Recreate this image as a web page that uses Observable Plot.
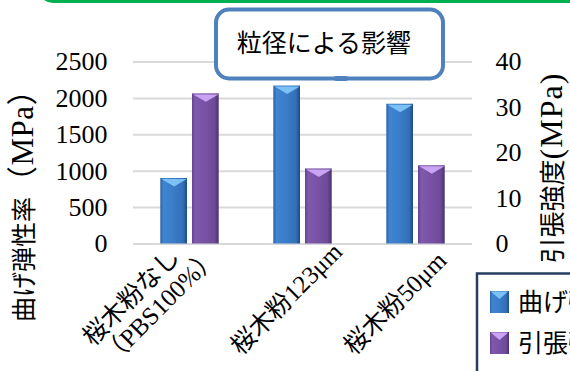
<!DOCTYPE html>
<html><head><meta charset="utf-8">
<script src="https://cdn.jsdelivr.net/npm/d3@7"></script>
<script src="https://cdn.jsdelivr.net/npm/@observablehq/plot@0.6"></script>
<style>
html,body{margin:0;padding:0;background:#fff;}
#chart{position:relative;width:570px;height:371px;overflow:hidden;}
svg{display:block;}
</style></head><body><div id="chart"></div>
<script>
// ---- data ----
const categories = ["桜木粉なし\n（PBS100%）", "桜木粉123μm", "桜木粉50μm"];
const series = ["曲げ弾性率", "引張強度"];
const flexModulus = [900, 2170, 1920];        // 曲げ弾性率 (MPa), left axis
const tensileStrength = [33.0, 16.5, 17.2];   // 引張強度 (MPa), right axis
const leftTicks = [0, 500, 1000, 1500, 2000, 2500];
const rightTicks = [0, 10, 20, 30, 40];
const leftTitle = ["曲げ弾性率", "（MPa）"];
const rightTitle = ["引張強度", "(MPa)"];
const chartTitle = "粒径による影響";

const leftMax = 2500, rightMax = 40, k = leftMax / rightMax;
const rows = categories.map((c, i) => ({
  category: c, flex: flexModulus[i], tensile: tensileStrength[i], tensileScaled: tensileStrength[i] * k,
  lines: c.split("\n").length
}));

const SERIF = "'Liberation Serif', 'Noto Sans CJK JP', serif";
const SANS = "'Noto Sans CJK JP', sans-serif";

const bevel = {
  draw(ctx) {
    const w = 12.6, h = 8;
    ctx.moveTo(-w, 0.6); ctx.lineTo(w, 0.6); ctx.lineTo(0, h); ctx.closePath();
  }
};

const plot = Plot.plot({
  width: 570, height: 371,
  marginLeft: 133, marginRight: 98, marginTop: 61.5, marginBottom: 127.5,
  style: {fontFamily: SERIF, background: "transparent", color: "#000", overflow: "visible"},
  x: {domain: categories, padding: 0, axis: null},
  y: {domain: [0, leftMax], axis: null, label: null},
  marks: [
    Plot.gridY(leftTicks, {stroke: "#d9d9d9", strokeWidth: 2, strokeOpacity: 1}),
    Plot.barY(rows, {x: "category", y: "flex", fill: "url(#gBlue)", insetLeft: 27.3, insetRight: 59}),
    Plot.barY(rows, {x: "category", y: "tensileScaled", fill: "url(#gPurple)", insetLeft: 59, insetRight: 27.3}),
    Plot.dot(rows, {x: "category", y: "flex", dx: -15.85, symbol: bevel, r: 5, fill: "#7cc0f6", stroke: "none"}),
    Plot.dot(rows, {x: "category", y: "tensileScaled", dx: 15.85, symbol: bevel, r: 5, fill: "#c9a4f2", stroke: "none"}),
    Plot.axisY(leftTicks, {anchor: "left", tickSize: 0, tickPadding: 26, fontSize: 26, fontFamily: SERIF, tickFormat: d => String(d), label: null}),
    Plot.axisY(rightTicks.map(d => d * k), {anchor: "right", tickSize: 0, tickPadding: 23, fontSize: 26, fontFamily: SERIF, tickFormat: d => String(Math.round(d / k)), label: null}),
    Plot.text(rows.filter(d => d.lines === 1), {x: "category", text: "category", frameAnchor: "bottom", rotate: -45, textAnchor: "start", lineAnchor: "bottom", dx: -62, dy: 112, fontSize: 25, fontFamily: SERIF, fill: "#000"}),
    Plot.text(rows.filter(d => d.lines > 1), {x: "category", text: "category", frameAnchor: "bottom", rotate: -45, textAnchor: "start", lineAnchor: "bottom", lineHeight: 1.08, dx: -78, dy: 122, fontSize: 25, fontFamily: SERIF, fill: "#000"})
  ]
});

const svg = d3.select(plot);
const defs = svg.insert("defs", ":first-child");
function hGrad(id, stops) {
  const g = defs.append("linearGradient").attr("id", id).attr("x1", 0).attr("x2", 1).attr("y1", 0).attr("y2", 0);
  stops.forEach(([o, c]) => g.append("stop").attr("offset", o).attr("stop-color", c));
}
hGrad("gBlue", [[0, "#2c62a6"], [0.12, "#3f85d2"], [0.5, "#3a7cc7"], [0.85, "#3370b9"], [1, "#1d4a82"]]);
hGrad("gPurple", [[0, "#634391"], [0.12, "#7f59ad"], [0.5, "#7851a4"], [0.85, "#6d4a98"], [1, "#46306b"]]);
const barColors = ["url(#gBlue)", "url(#gPurple)"];
const bevelColors = ["#7cc0f6", "#c9a4f2"];

// green frame edge at top
svg.append("rect").attr("x", 40).attr("y", -40).attr("width", 580).attr("height", 41.5).attr("rx", 13)
  .attr("fill", "none").attr("stroke", "#00b050").attr("stroke-width", 3);

// title callout box
svg.append("rect").attr("x", 216).attr("y", 9.5).attr("width", 227).attr("height", 69).attr("rx", 13)
  .attr("fill", "#fff").attr("stroke", "#4f81bd").attr("stroke-width", 4);
svg.append("rect").attr("x", 334).attr("y", 76).attr("width", 14).attr("height", 5).attr("rx", 2).attr("fill", "#4f81bd");
svg.append("text").attr("x", 324).attr("y", 52).attr("text-anchor", "middle")
  .attr("font-family", SANS).attr("font-size", 25).attr("fill", "#000").text(chartTitle);

// axis titles
function axisTitle(x, y, parts, cjkSize, latSize, spacing) {
  const t = svg.append("text").attr("transform", `translate(${x},${y}) rotate(-90)`)
    .attr("text-anchor", "middle").attr("fill", "#000");
  t.append("tspan").attr("font-family", SANS).attr("font-size", cjkSize).text(parts[0]);
  t.append("tspan").attr("font-family", SERIF).attr("font-size", latSize).attr("letter-spacing", spacing).text(parts[1]);
}
axisTitle(33, 198, leftTitle, 25, 31, 0.5);
axisTitle(562, 168, rightTitle, 26, 32, 1);

// legend
const lg = svg.append("g").attr("text-anchor", "start");
lg.append("rect").attr("x", 477).attr("y", 273.5).attr("width", 140).attr("height", 140)
  .attr("fill", "#fff").attr("stroke", "#243f60").attr("stroke-width", 2.5);
series.forEach((s, i) => {
  const y0 = 291 + i * 41;
  lg.append("rect").attr("x", 490).attr("y", y0).attr("width", 19).attr("height", 22).attr("fill", barColors[i]);
  lg.append("path").attr("d", `M490.8,${y0 + 0.6}L508.2,${y0 + 0.6}L499.5,${y0 + 8}Z`).attr("fill", bevelColors[i]);
  lg.append("text").attr("x", 518).attr("y", y0 + 20).attr("text-anchor", "start").attr("font-family", SANS).attr("font-size", 25)
    .attr("fill", "#000").text(s);
});

document.getElementById("chart").appendChild(plot);
</script></body></html>
